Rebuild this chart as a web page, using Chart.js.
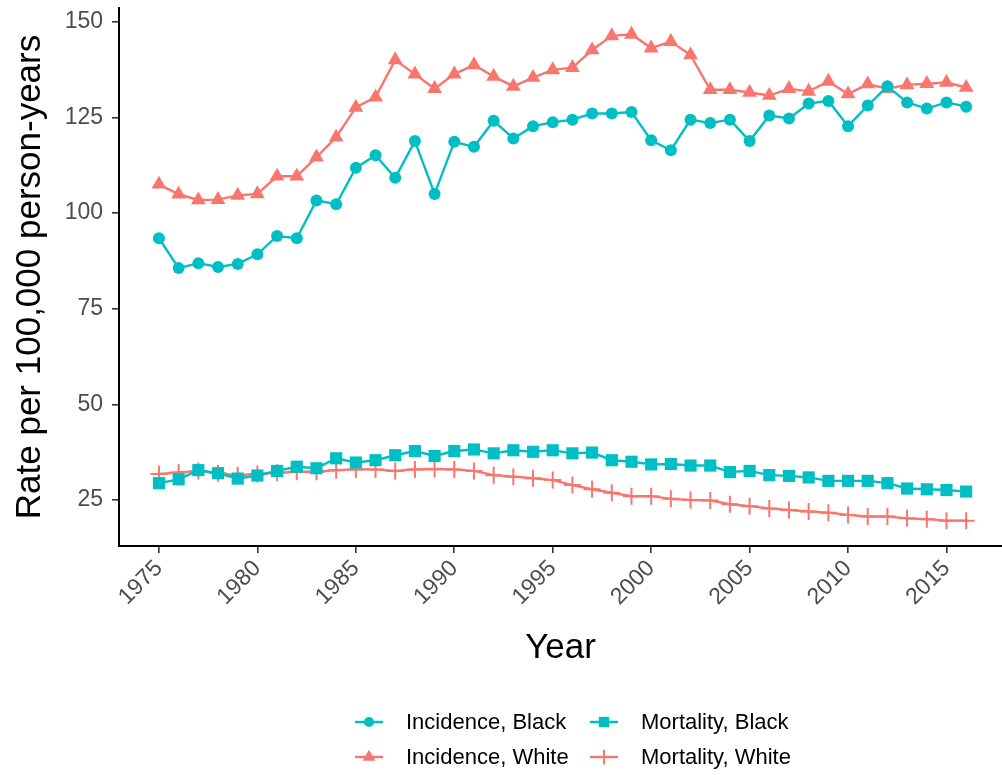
<!DOCTYPE html>
<html>
<head>
<meta charset="utf-8">
<script src="https://cdn.jsdelivr.net/npm/chart.js@4.4.1/dist/chart.umd.min.js"></script>
<style>
  html, body { margin: 0; padding: 0; background: #fff; }
  canvas { display: block; }
</style>
</head>
<body>
<canvas id="rateChart" width="1002" height="775"></canvas>
<script>
var years = [1975, 1976, 1977, 1978, 1979, 1980, 1981, 1982, 1983, 1984,
             1985, 1986, 1987, 1988, 1989, 1990, 1991, 1992, 1993, 1994,
             1995, 1996, 1997, 1998, 1999, 2000, 2001, 2002, 2003, 2004,
             2005, 2006, 2007, 2008, 2009, 2010, 2011, 2012, 2013, 2014,
             2015, 2016];

var incidenceBlack = [93.4, 85.6, 86.9, 85.9, 86.7, 89.2, 94.0, 93.4, 103.3, 102.3,
                      111.8, 115.1, 109.2, 118.8, 105.0, 118.6, 117.3, 124.1, 119.5, 122.7,
                      123.7, 124.4, 126.0, 126.0, 126.4, 119.0, 116.4, 124.4, 123.5, 124.4,
                      118.8, 125.5, 124.7, 128.6, 129.3, 122.7, 128.1, 133.1, 128.9, 127.3,
                      128.9, 127.8];
var incidenceWhite = [107.5, 104.9, 103.4, 103.5, 104.6, 105.0, 109.6, 109.6, 114.6, 119.8,
                      127.6, 130.3, 140.0, 136.3, 132.5, 136.3, 138.7, 135.7, 133.1, 135.4,
                      137.4, 138.0, 142.6, 146.3, 146.7, 143.1, 144.8, 141.3, 132.2, 132.2,
                      131.5, 130.7, 132.5, 131.8, 134.4, 131.1, 133.7, 132.5, 133.5, 133.8,
                      134.1, 132.8];
var mortalityBlack = [29.4, 30.4, 32.8, 32.0, 30.6, 31.4, 32.6, 33.7, 33.3, 35.9,
                      34.8, 35.4, 36.7, 37.8, 36.5, 37.8, 38.2, 37.2, 38.0, 37.6,
                      38.0, 37.2, 37.4, 35.4, 35.0, 34.3, 34.4, 34.0, 34.0, 32.3,
                      32.6, 31.5, 31.3, 30.9, 30.0, 30.0, 30.0, 29.4, 28.0, 27.8,
                      27.6, 27.2];
var mortalityWhite = [31.8, 32.2, 32.6, 32.0, 31.5, 31.8, 32.1, 32.4, 32.4, 32.8,
                      33.0, 33.0, 32.6, 33.0, 33.1, 33.0, 32.6, 31.5, 31.1, 30.7,
                      30.2, 28.9, 27.8, 26.9, 26.0, 26.0, 25.3, 25.0, 24.9, 23.9,
                      23.4, 22.8, 22.4, 22.0, 21.7, 21.1, 20.7, 20.7, 20.2, 20.0,
                      19.6, 19.6];

var xTicks = [1975, 1980, 1985, 1990, 1995, 2000, 2005, 2010, 2015];
var yTicks = [25, 50, 75, 100, 125, 150];

var TEAL = '#00BFC4';
var SALMON = '#F8766D';
var FONT = "'Liberation Sans', Arial, sans-serif";

function toPoints(values) {
    return years.map(function(yr, i) { return { x: yr, y: values[i] }; });
}

function series(label, values, color, style, radius, legendSlot) {
    return {
        label: label,
        data: toPoints(values),
        borderColor: color,
        backgroundColor: color,
        borderWidth: 2.4,
        pointStyle: style,
        pointRadius: radius,
        pointBorderWidth: style === 'cross' ? 2 : 0,
        pointBackgroundColor: color,
        pointBorderColor: color,
        tension: 0,
        legendSlot: legendSlot
    };
}

// no label padding around the axes, so the plot box sits where it is told
function noPadding(scale) {
    scale.paddingLeft = 0;
    scale.paddingRight = 0;
    scale.paddingTop = 0;
    scale.paddingBottom = 0;
}

// two-column legend under the plot, filled column by column
var legendPlugin = {
    id: 'columnLegend',
    afterDraw: function(chart) {
        var ctx = chart.ctx;
        var cols = [{ key: 355, text: 406 }, { key: 590, text: 641 }];
        var rows = [722, 757];
        ctx.save();
        chart.data.datasets.forEach(function(ds) {
            var col = cols[ds.legendSlot[0]];
            var y = rows[ds.legendSlot[1]];
            ctx.strokeStyle = ds.borderColor;
            ctx.fillStyle = ds.borderColor;
            ctx.lineWidth = 2.4;
            ctx.beginPath();
            ctx.moveTo(col.key, y);
            ctx.lineTo(col.key + 28, y);
            ctx.stroke();
            ctx.lineWidth = ds.pointBorderWidth || 1;
            Chart.helpers.drawPoint(ctx, {
                pointStyle: ds.pointStyle,
                radius: ds.pointRadius * 0.85,
                rotation: 0,
                borderWidth: ds.pointBorderWidth
            }, col.key + 14, y);
            ctx.fillStyle = '#000';
            ctx.font = '22px ' + FONT;
            ctx.textBaseline = 'middle';
            ctx.textAlign = 'left';
            ctx.fillText(ds.label, col.text, y + 1);
        });
        ctx.restore();
    }
};

var rateChart = new Chart(document.getElementById('rateChart').getContext('2d'), {
    type: 'line',
    data: {
        datasets: [
            series('Incidence, Black', incidenceBlack, TEAL, 'circle', 6, [0, 0]),
            series('Incidence, White', incidenceWhite, SALMON, 'triangle', 8.6, [0, 1]),
            series('Mortality, Black', mortalityBlack, TEAL, 'rect', 8.6, [1, 0]),
            series('Mortality, White', mortalityWhite, SALMON, 'cross', 8.5, [1, 1])
        ]
    },
    options: {
        responsive: false,
        animation: false,
        devicePixelRatio: 1,
        layout: { autoPadding: false, padding: { top: 8, right: 0, bottom: 99, left: 0 } },
        plugins: {
            legend: { display: false },
            tooltip: { enabled: false }
        },
        scales: {
            x: {
                type: 'linear',
                min: 1972.97,
                max: 2017.82,
                afterBuildTicks: function(scale) {
                    scale.ticks = xTicks.map(function(v) { return { value: v }; });
                },
                afterFit: function(scale) { scale.height = 130; noPadding(scale); },
                grid: { drawOnChartArea: false, drawTicks: true, tickLength: 7, color: '#333333', lineWidth: 1.6 },
                border: { display: true, color: '#000000', width: 2 },
                ticks: {
                    minRotation: 45,
                    maxRotation: 45,
                    padding: 2,
                    color: '#4d4d4d',
                    font: { family: FONT, size: 23 },
                    callback: function(v) { return String(v); }
                },
                title: {
                    display: true,
                    text: 'Year',
                    color: '#000000',
                    font: { family: FONT, size: 35 },
                    padding: { top: 0, bottom: 7 }
                }
            },
            y: {
                type: 'linear',
                min: 12.98,
                max: 153.58,
                afterBuildTicks: function(scale) {
                    scale.ticks = yTicks.map(function(v) { return { value: v }; });
                },
                afterFit: function(scale) { scale.width = 119; noPadding(scale); },
                grid: { drawOnChartArea: false, drawTicks: true, tickLength: 7, color: '#333333', lineWidth: 1.6 },
                border: { display: true, color: '#000000', width: 2 },
                ticks: {
                    padding: 9,
                    color: '#4d4d4d',
                    font: { family: FONT, size: 23 }
                },
                title: {
                    display: true,
                    text: 'Rate per 100,000 person-years',
                    color: '#000000',
                    font: { family: FONT, size: 35 },
                    padding: { top: 9, bottom: 0 }
                }
            }
        }
    },
    plugins: [legendPlugin]
});
</script>
</body>
</html>
